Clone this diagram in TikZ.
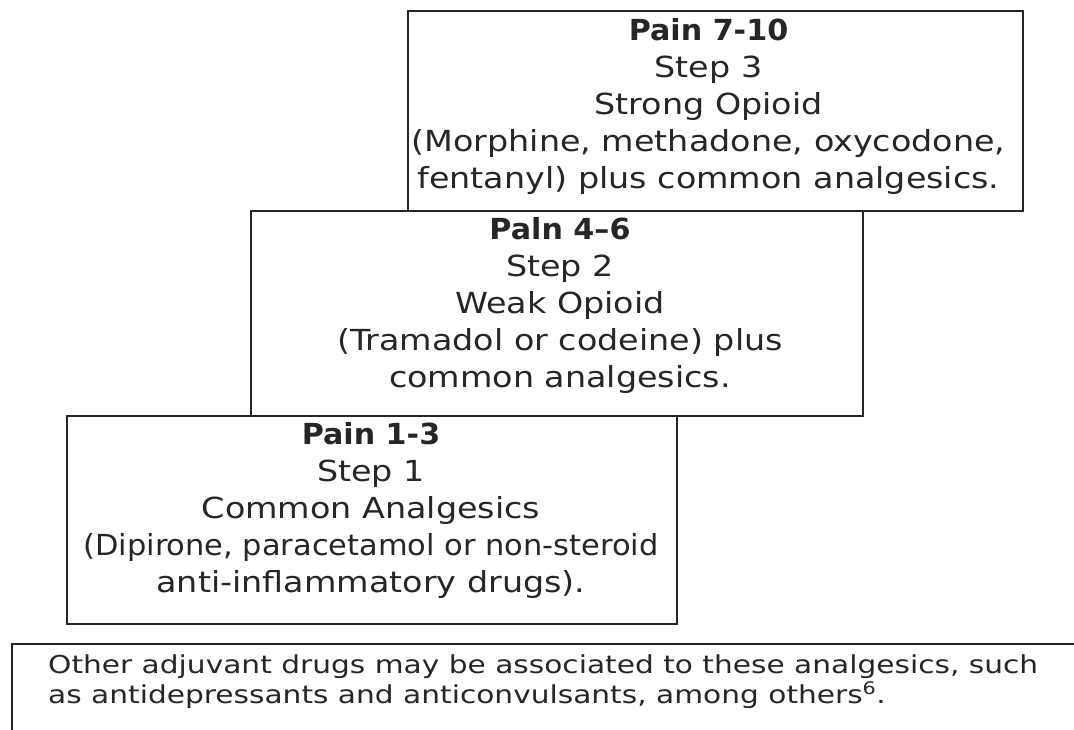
\documentclass[tikz,border=0pt]{standalone}
\usepackage{fontspec}
\setmainfont[FakeStretch=1.15]{DejaVu Sans}
\newfontfamily\ttlfont[FakeStretch=1.04]{DejaVu Sans}
\newfontfamily\narrowfont[FakeStretch=1.05]{DejaVu Sans}
\newfontfamily\notefont[FakeStretch=1.2]{DejaVu Sans}
\begin{document}
\begin{tikzpicture}[x=1pt,y=-1pt,
  linecol/.style={draw=black!85, line width=2pt},
  stepbox/.style={linecol, fill=white, inner sep=0pt, minimum width=#1},
  steptext/.style={anchor=north, align=center, inner sep=0pt,
    font=\fontsize{29}{37}\selectfont, text=black!85}
]
\useasboundingbox (0,0) rectangle (1074,729);
\begin{scope}
\clip (0,0) rectangle (1074,729);
% bottom note box (extends beyond the page)
\draw[linecol] (1090,644) -- (12,644) -- (12,745);
\node[anchor=north west, align=left, inner sep=0pt, text=black!85,
  font=\notefont\fontsize{24.7}{30}\selectfont] (note) at (48,655)
  {Other adjuvant drugs may be associated to these analgesics, such\\
   as antidepressants and anticonvulsants, among others\textsuperscript{6}.};
\end{scope}
% step boxes
\node[stepbox=615pt, minimum height=200pt, anchor=north west] (s3) at (407,10) {};
\node[steptext] (t3) at ([xshift=-7pt,yshift=-8pt]s3.north)
  {{\ttlfont\bfseries Pain 7-10}\\ Step 3\\ Strong Opioid\\ (Morphine, methadone, oxycodone,\\ fentanyl) plus common analgesics.};
\node[stepbox=612pt, minimum height=205pt, anchor=north west] (s2) at (250,209.5) {};
\node[steptext] (t2) at ([xshift=3pt,yshift=-8pt]s2.north)
  {{\ttlfont\bfseries Paln 4–6}\\ Step 2\\ Weak Opioid\\ (Tramadol or codeine) plus\\ common analgesics.};
\node[stepbox=610pt, minimum height=208pt, anchor=north west] (s1) at (66,414.5) {};
\node[steptext] (t1) at ([xshift=-1pt,yshift=-8pt]s1.north)
  {{\ttlfont\bfseries Pain 1-3}\\ Step 1\\ Common Analgesics\\ {\narrowfont (Dipirone, paracetamol or non-steroid}\\ anti-inflammatory drugs).};
\end{tikzpicture}
\end{document}
